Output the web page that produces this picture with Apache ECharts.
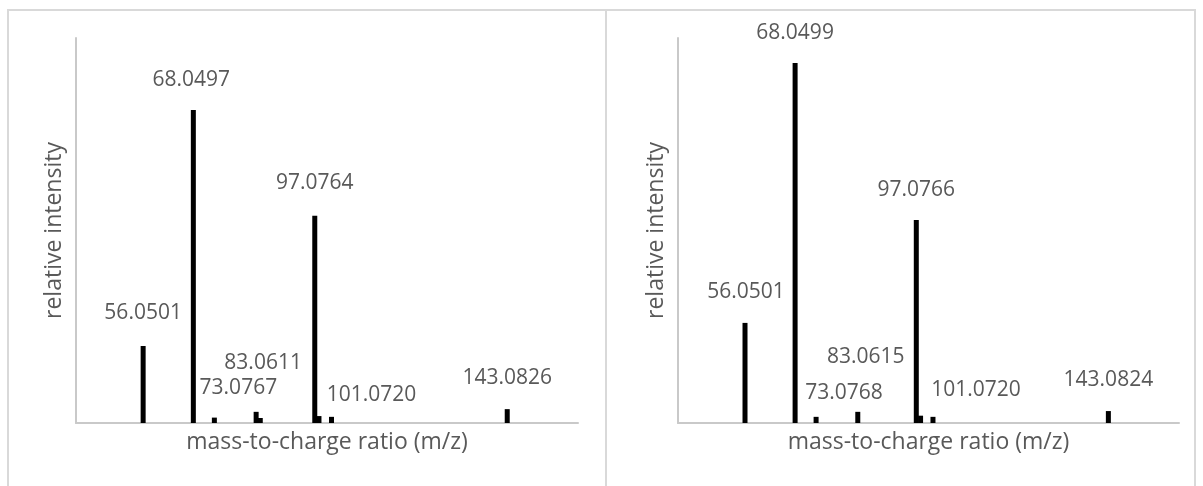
<!DOCTYPE html>
<html>
<head>
<meta charset="utf-8">
<script src="https://cdn.jsdelivr.net/npm/echarts@6/dist/echarts.min.js"></script>
<style>
    html, body { margin: 0; padding: 0; background: #fff; }
    .panel {
        position: absolute;
        top: 9px;
        height: 477px;
        box-sizing: border-box;
        border: 2px solid #d9d9d9;
        border-bottom: none;
    }
</style>
</head>
<body>
<div id="specA" class="panel" style="left:7px; width:600px;"></div>
<div id="specB" class="panel" style="left:605px; width:591px;"></div>

<script>
// left spectrum: labelled peaks (m/z, relative intensity)
var mzA = [56.0501, 68.0497, 73.0767, 83.0611, 97.0764, 101.0720, 143.0826];
var intA = [20.0, 81.3, 1.4, 2.9, 53.8, 1.6, 3.6];
// left spectrum: small unlabelled peaks
var minorMzA = [84.05, 98.08];
var minorIntA = [1.3, 1.8];

// right spectrum
var mzB = [56.0501, 68.0499, 73.0768, 83.0615, 97.0766, 101.0720, 143.0824];
var intB = [26.0, 93.5, 1.6, 2.9, 52.7, 1.6, 3.1];
var minorMzB = [98.1];
var minorIntB = [1.9];

// where each data label sits relative to the top of its bar (px)
var nudgeA = [[0, -33], [-2, -30], [24, -30], [7, -49], [0, -33], [40, -22], [0, -31]];
var nudgeB = [[1, -31], [0, -30], [28, -24], [8, -55], [0, -30], [43, -27], [0, -31]];

var FONT = '"Open Sans", "Noto Sans", sans-serif';
var TEXT = '#595959';

function buildOption(mz, inten, minorMz, minorInt, nudge, grid){
    var peaks = mz.map(function(m, i){
        return {
            value: [m, inten[i]],
            label: { offset: nudge[i] }
        };
    });
    var minor = minorMz.map(function(m, i){ return [m, minorInt[i]]; });

    return {
        animation: false,
        textStyle: { fontFamily: FONT },
        grid: grid,
        xAxis: {
            type: 'value',
            min: 40,
            max: 160,
            name: 'mass-to-charge ratio (m/z)',
            nameLocation: 'middle',
            nameGap: 8,
            nameTextStyle: { color: TEXT, fontSize: 23, fontFamily: FONT },
            axisLine: { lineStyle: { color: '#c9c9c9', width: 2 } },
            axisTick: { show: false },
            axisLabel: { show: false },
            splitLine: { show: false }
        },
        yAxis: {
            type: 'value',
            min: 0,
            max: 100,
            name: 'relative intensity',
            nameLocation: 'middle',
            nameGap: 10,
            nameTextStyle: { color: TEXT, fontSize: 23, fontFamily: FONT },
            axisLine: { show: true, lineStyle: { color: '#c9c9c9', width: 2 } },
            axisTick: { show: false },
            axisLabel: { show: false },
            splitLine: { show: false }
        },
        series: [
            {
                type: 'bar',
                barWidth: 5,
                itemStyle: { color: '#000' },
                label: {
                    show: true,
                    position: 'top',
                    distance: 0,
                    verticalAlign: 'middle',
                    color: TEXT,
                    fontSize: 21,
                    fontFamily: FONT,
                    formatter: function(p){ return p.value[0].toFixed(4); }
                },
                data: peaks
            },
            {
                type: 'bar',
                barWidth: 5,
                barGap: '-100%',
                itemStyle: { color: '#000' },
                data: minor
            }
        ]
    };
}

var chartA = echarts.init(document.getElementById('specA'));
chartA.setOption(buildOption(mzA, intA, minorMzA, minorIntA, nudgeA,
    { left: 67, right: 27, top: 27, bottom: 63 }));

var chartB = echarts.init(document.getElementById('specB'));
chartB.setOption(buildOption(mzB, intB, minorMzB, minorIntB, nudgeB,
    { left: 71, right: 15, top: 27, bottom: 63 }));
</script>
</body>
</html>
